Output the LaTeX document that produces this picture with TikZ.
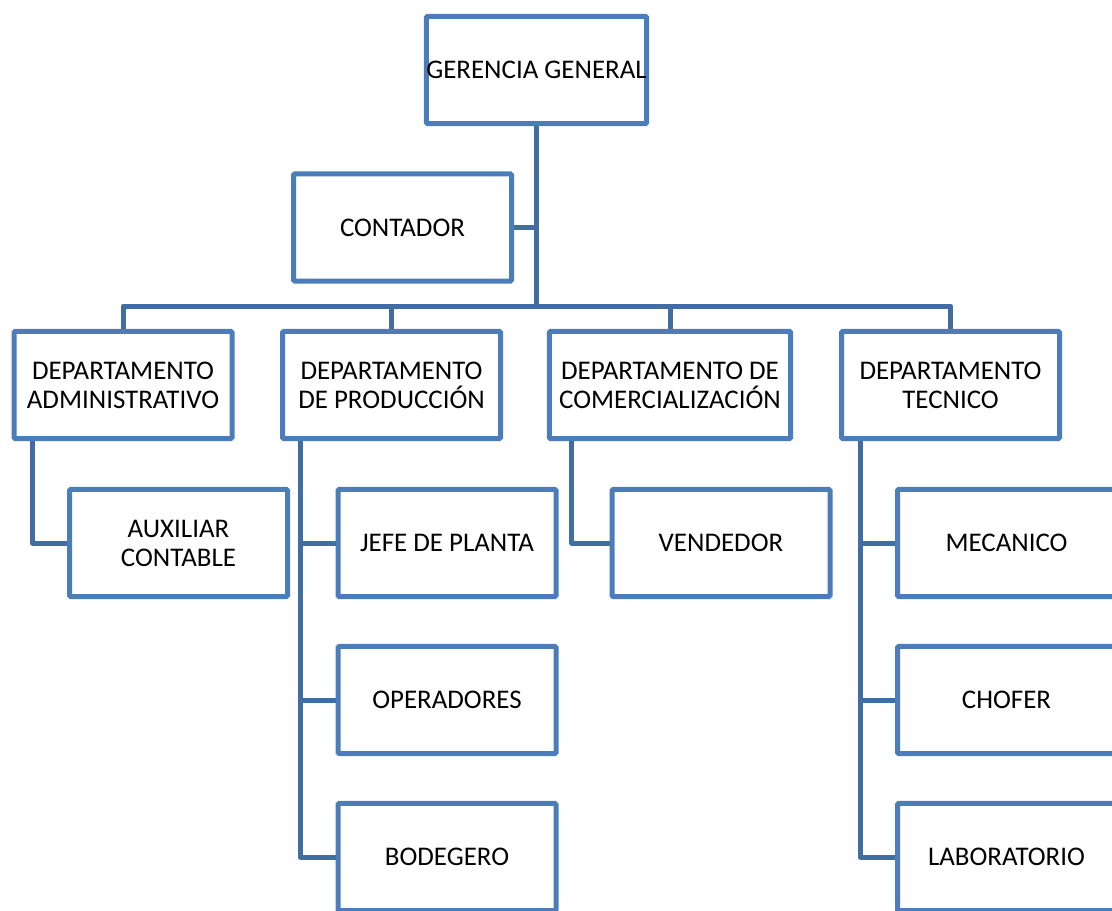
\documentclass[tikz,border=0pt]{standalone}
\usepackage{fontspec}
\setmainfont{Carlito}
\usetikzlibrary{calc}
\definecolor{boxblue}{RGB}{74,125,186}
\definecolor{lineblue}{RGB}{66,109,162}
\begin{document}
\begin{tikzpicture}[x=0.75pt,y=-0.75pt,
  orgbox/.style={draw=boxblue,line width=3.75pt,fill=white,rounded corners=1pt,
    minimum width=163.5pt,minimum height=80.5pt,inner sep=0pt,align=center,
    font=\fontsize{20.2}{21.8}\selectfont},
  wide/.style={minimum width=181pt},
  conn/.style={draw=lineblue,line width=3.75pt,line join=round}]
\useasboundingbox (0,0) rectangle (1112,910);
\clip (0,0) rectangle (1112,910);
\coordinate (bus) at (536.5,306);
% nodes
\node[orgbox] (gg) at (536.5,70) {GERENCIA GENERAL};
\node[orgbox] (cont) at (402.5,227.5) {CONTADOR};
\node[orgbox] (adm) at (123,385) {DEPARTAMENTO\\ADMINISTRATIVO};
\node[orgbox] (prod) at (391.5,385) {DEPARTAMENTO\\DE PRODUCCIÓN};
\node[orgbox,wide] (com) at (670,385) {DEPARTAMENTO DE\\COMERCIALIZACIÓN};
\node[orgbox] (tec) at (950.5,385) {DEPARTAMENTO\\TECNICO};
\node[orgbox] (aux) at (178.5,543) {AUXILIAR\\CONTABLE};
\node[orgbox] (jefe) at (447,543) {JEFE DE PLANTA};
\node[orgbox] (oper) at (447,700) {OPERADORES};
\node[orgbox] (bod) at (447,857) {BODEGERO};
\node[orgbox] (vend) at (721,543) {VENDEDOR};
\node[orgbox] (mec) at (1006.5,543) {MECANICO};
\node[orgbox] (chof) at (1006.5,700) {CHOFER};
\node[orgbox] (lab) at (1006.5,857) {LABORATORIO};
% connectors
\draw[conn] (gg.south) -- (bus);
\draw[conn] (cont.east) -- (cont.east -| bus);
\draw[conn] (adm.north) -- (adm.north |- bus) -- (tec.north |- bus) -- (tec.north);
\draw[conn] (prod.north) -- (prod.north |- bus);
\draw[conn] (com.north) -- (com.north |- bus);
\coordinate (admL) at ($(adm.south west)+(21,0)$);
\coordinate (prodL) at ($(prod.south west)+(20,0)$);
\coordinate (comL) at ($(com.south west)+(25,0)$);
\coordinate (tecL) at ($(tec.south west)+(21,0)$);
\draw[conn] (admL) |- (aux.west);
\draw[conn] (prodL) |- (jefe.west);
\draw[conn] (prodL) |- (oper.west);
\draw[conn] (prodL) |- (bod.west);
\draw[conn] (comL) |- (vend.west);
\draw[conn] (tecL) |- (mec.west);
\draw[conn] (tecL) |- (chof.west);
\draw[conn] (tecL) |- (lab.west);
\end{tikzpicture}
\end{document}
